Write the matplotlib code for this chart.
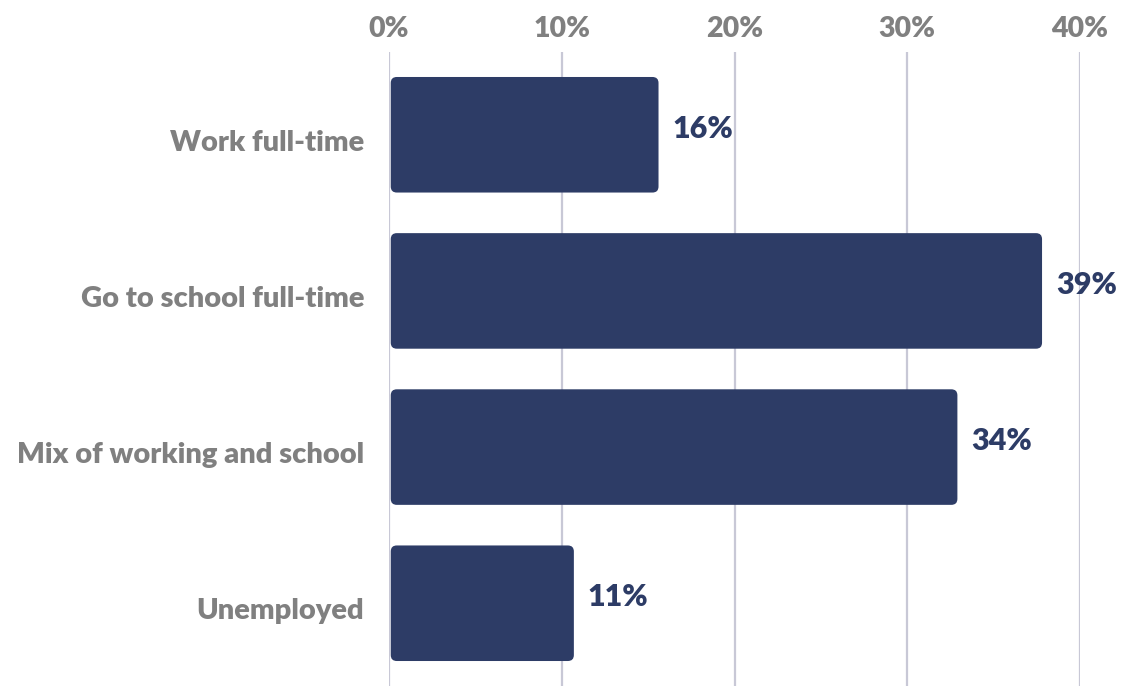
import matplotlib.pyplot as plt
import matplotlib.transforms as mtransforms
from matplotlib.patches import FancyBboxPatch

categories = ['Work full-time', 'Go to school full-time', 'Mix of working and school', 'Unemployed']
values = [15.6, 37.8, 32.9, 10.7]
value_labels = ['16%', '39%', '34%', '11%']
ticks = [0, 10, 20, 30, 40]
tick_labels = ['0%', '10%', '20%', '30%', '40%']

bar_color = '#2d3c66'
gray = '#808080'

plt.rcParams['font.family'] = ['Lato', 'DejaVu Sans']

fig = plt.figure(figsize=(11.24, 6.86), dpi=100)
ax = fig.add_axes([0.3461, 0.0, 0.9609 - 0.3461, 0.9242])

pos = list(range(len(categories)))
bars = ax.barh(pos, values, height=0.74, color=bar_color, zorder=2)

# swap the plain bars for ones with rounded corners
for b in bars:
    x, y = b.get_x(), b.get_y()
    w, h = b.get_width(), b.get_height()
    b.set_visible(False)
    rounded = FancyBboxPatch((x + 0.1, y), w - 0.1, h,
                             boxstyle='round,pad=0,rounding_size=0.35',
                             mutation_aspect=0.11, facecolor=bar_color,
                             edgecolor='none', zorder=2)
    ax.add_patch(rounded)

for p, v, lab in zip(pos, values, value_labels):
    ax.text(v + 0.8, p - 0.04, lab, va='center', ha='left', fontsize=22,
            fontweight='heavy', color=bar_color)

ax.set_xlim(0, 40)
ax.set_ylim(3.53, -0.53)
ax.set_xticks(ticks)
ax.set_xticklabels(tick_labels)
ax.set_yticks(pos)
ax.set_yticklabels(categories)
ax.xaxis.tick_top()
ax.tick_params(axis='x', length=0, pad=7, labelsize=20.5, labelcolor=gray)
ax.tick_params(axis='y', length=0, pad=18, labelsize=21, labelcolor=gray)
for t in ax.get_xticklabels() + ax.get_yticklabels():
    t.set_fontweight('heavy')

# category labels sit a little below the bar centres
shift = mtransforms.ScaledTranslation(0, -4 / 72, fig.dpi_scale_trans)
for t in ax.get_yticklabels():
    t.set_transform(t.get_transform() + shift)

ax.grid(axis='x', color='#c8c8d6', linewidth=1.6, zorder=0)
ax.set_axisbelow(True)
for s in ax.spines.values():
    s.set_visible(False)

fig.savefig('out.png', dpi=100)
